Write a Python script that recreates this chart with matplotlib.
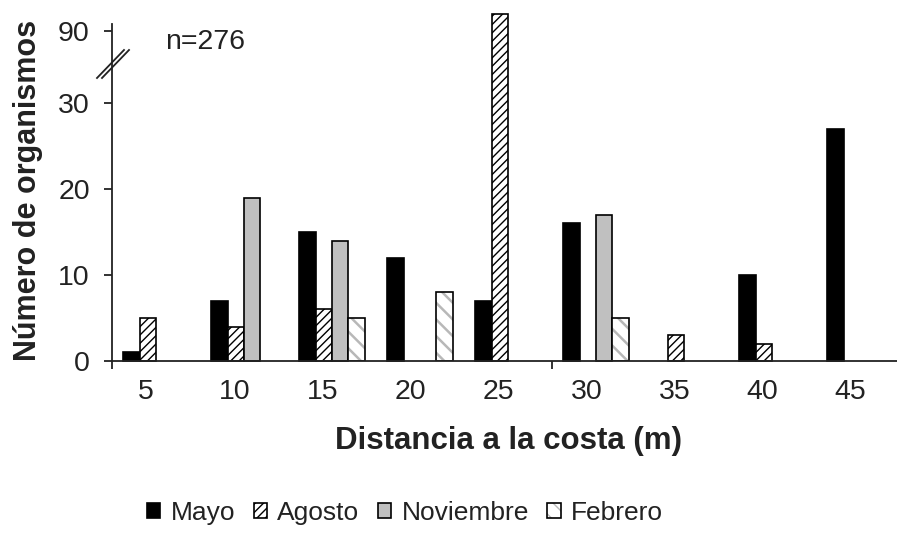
import matplotlib
matplotlib.use("Agg")
import matplotlib.pyplot as plt
import numpy as np
from matplotlib.lines import Line2D
from matplotlib.legend_handler import HandlerTuple
from matplotlib.patches import Patch

# data
distancias = ["5", "10", "15", "20", "25", "30", "35", "40", "45"]
mayo = [1, 7, 15, 12, 7, 16, 0, 10, 27]
agosto = [5, 4, 6, 0, 93, 0, 3, 2, 0]
noviembre = [0, 19, 14, 0, 0, 17, 0, 0, 0]
febrero = [0, 0, 5, 8, 0, 5, 0, 0, 0]
ytick_vals = [0, 10, 20, 30, 90]

plt.rcParams['font.family'] = ['Liberation Sans', 'DejaVu Sans']


def to_disp(v):
    # broken axis: values above 30 squeezed above the break
    v = np.asarray(v, dtype=float)
    return np.where(v <= 30, v, 38.37 + (v - 90) * 0.66)


fig = plt.figure(figsize=(8.97, 5.36), dpi=100)
ax = fig.add_axes([112 / 897, 175 / 536, 1 - 112 / 897, (536 - 14 - 175) / 536])

x = np.arange(len(distancias))
w = 0.186
offs = (np.arange(4) - 1.5) * w


def masked(vals):
    vals = np.asarray(vals)
    keep = vals > 0
    return x[keep], to_disp(vals[keep])


xs, ys = masked(mayo)
b_mayo = ax.bar(xs + offs[0], ys, w, color='black', edgecolor='black', lw=1.2, clip_on=False)

with plt.rc_context({'hatch.linewidth': 1.0}):
    xs, ys = masked(agosto)
    b_ago = ax.bar(xs + offs[1], ys, w, color='white', edgecolor='black', hatch='////',
                   lw=1.2, clip_on=False)

xs, ys = masked(noviembre)
b_nov = ax.bar(xs + offs[2], ys, w, color='#c0c0c0', edgecolor='black', lw=1.2, clip_on=False)

with plt.rc_context({'hatch.linewidth': 1.8}):
    xs, ys = masked(febrero)
    ax.bar(xs + offs[3], ys, w, color='white', edgecolor='#b8b8b8', hatch='\\\\', lw=0)
    ax.bar(xs + offs[3], ys, w, facecolor='none', edgecolor='black', lw=1.2)
    feb_hatch = Patch(facecolor='white', edgecolor='#b8b8b8', hatch='\\\\', lw=0)
feb_edge = Patch(facecolor='none', edgecolor='black', lw=1.2)

ax.set_xlim(-0.5, 8.42)
ax.set_ylim(0, 40.35)

for s in ['top', 'right']:
    ax.spines[s].set_visible(False)
ax.spines['left'].set_bounds(0, 39.2)
for s in ['left', 'bottom']:
    ax.spines[s].set_linewidth(1.3)
    ax.spines[s].set_color('#222222')

ax.set_yticks(to_disp(ytick_vals))
ax.set_yticklabels([str(v) for v in ytick_vals])
ax.tick_params(axis='y', direction='out', length=6, width=1.3, pad=10,
               labelsize=20.5, labelcolor='#222222', color='#222222')

ax.set_xticks(x - 0.11)
ax.set_xticklabels(distancias)
ax.tick_params(axis='x', which='major', length=0, pad=13, labelsize=20.5, labelcolor='#222222')
ax.set_xticks([-0.5, 4.5], minor=True)
ax.tick_params(axis='x', which='minor', direction='out', length=6, width=1.3, color='#222222')

# break marks on the y axis
for dx in (0, 5):
    fig.add_artist(Line2D([(97 + dx) / 897, (124 + dx) / 897],
                          [1 - (76 + 2) / 536, 1 - (48 + 2) / 536],
                          transform=fig.transFigure, color='#222222', lw=1.3))

fig.text(165 / 897, 1 - 42 / 536, 'n=276', fontsize=20.5, va='center', ha='left', color='#222222')

fig.text(28 / 897, 1 - 190 / 536, 'Número de organismos', rotation=90, fontsize=22,
         fontweight='bold', ha='center', va='center', color='#222222')
fig.text(508 / 897, 1 - 441 / 536, 'Distancia a la costa (m)', fontsize=22.5,
         fontweight='bold', ha='center', va='center', color='#222222')

fig.legend([b_mayo, b_ago, b_nov, (feb_hatch, feb_edge)],
           ['Mayo', 'Agosto', 'Noviembre', 'Febrero'],
           handler_map={tuple: HandlerTuple(ndivide=1)},
           loc='center', bbox_to_anchor=(405 / 897, 1 - 513 / 536), ncol=4, frameon=False,
           fontsize=19, handlelength=0.5, handleheight=0.5, handletextpad=0.4,
           columnspacing=0.7, labelcolor='#222222')

fig.savefig('out.png', dpi=100)
